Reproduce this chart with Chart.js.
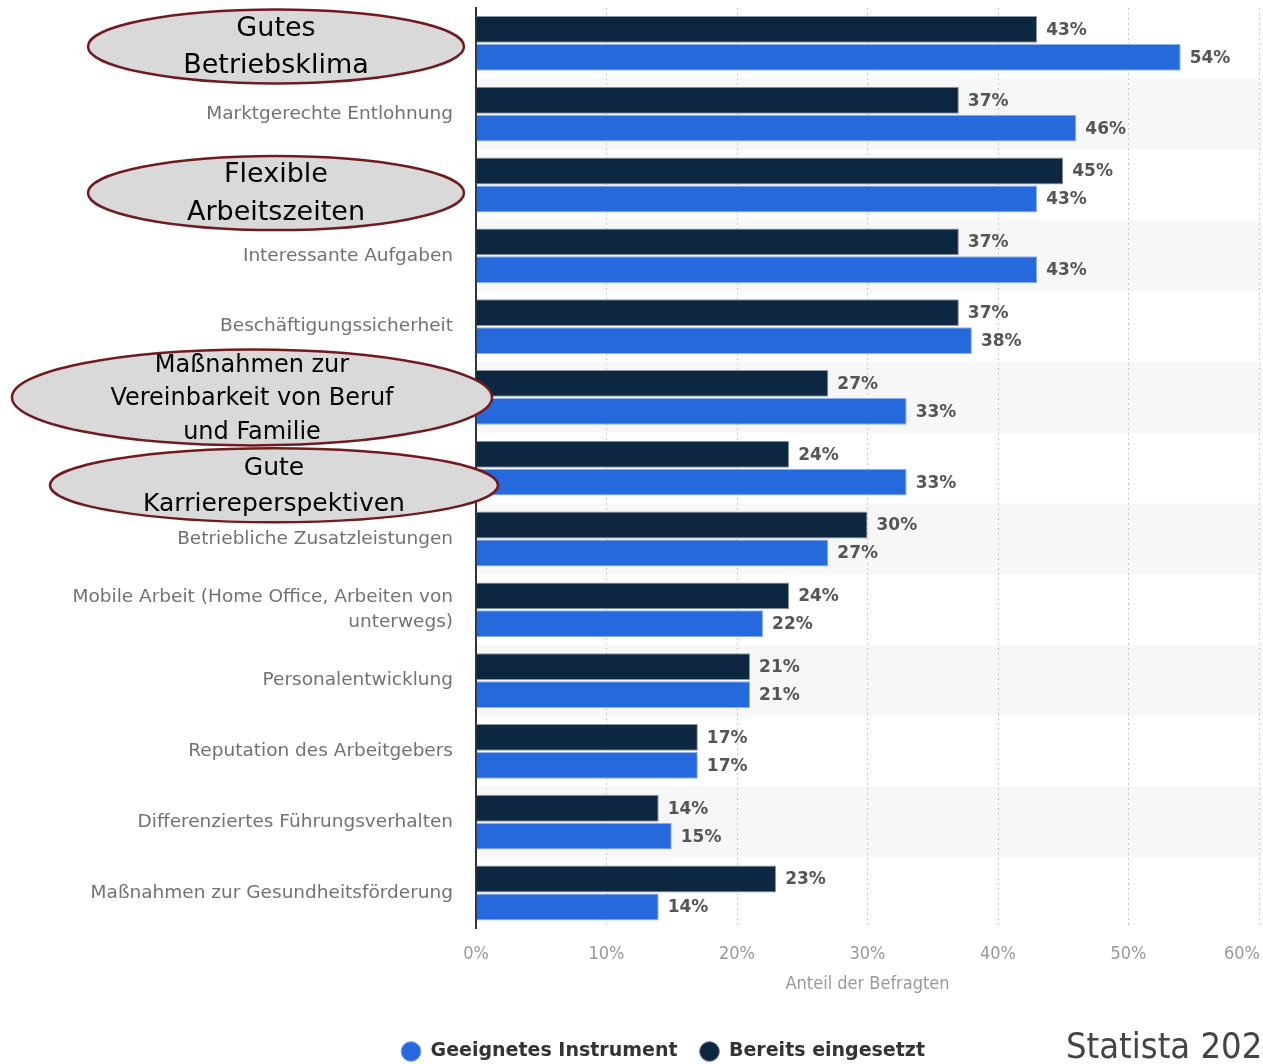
<!DOCTYPE html>
<html>
<head>
<meta charset="utf-8">
<script src="https://cdn.jsdelivr.net/npm/chart.js@4.4.1/dist/chart.umd.min.js"></script>
<style>
    html, body { margin: 0; padding: 0; background: #fff; overflow: hidden; }
    #wrap { width: 1263px; height: 1064px; position: relative; }
</style>
</head>
<body>
<div id="wrap"><canvas id="survey-chart"></canvas></div>
<script>
const categories = [
    'Gutes Betriebsklima',
    'Marktgerechte Entlohnung',
    'Flexible Arbeitszeiten',
    'Interessante Aufgaben',
    'Beschäftigungssicherheit',
    'Maßnahmen zur Vereinbarkeit von Beruf und Familie',
    'Gute Karriereperspektiven',
    'Betriebliche Zusatzleistungen',
    ['Mobile Arbeit (Home Office, Arbeiten von', 'unterwegs)'],
    'Personalentwicklung',
    'Reputation des Arbeitgebers',
    'Differenziertes Führungsverhalten',
    'Maßnahmen zur Gesundheitsförderung'
];
const bereitsEingesetzt = [43, 37, 45, 37, 37, 27, 24, 30, 24, 21, 17, 14, 23];
const geeignetesInstrument = [54, 46, 43, 43, 38, 33, 33, 27, 22, 21, 17, 15, 14];
const xTickValues = [0, 10, 20, 30, 40, 50, 60];

// highlighted rows, drawn as grey ovals over the axis labels
const highlights = [
    { row: 0, dy: 3, cx: 276, rx: 188, ry: 37, size: 27, lines: ['Gutes', 'Betriebsklima'], offs: [-17, 20] },
    { row: 2, dy: 8, cx: 276, rx: 188, ry: 37, size: 27, lines: ['Flexible', 'Arbeitszeiten'], offs: [-18, 20] },
    { row: 5, dy: 0, cx: 252, rx: 240, ry: 48, size: 24, lines: ['Maßnahmen zur', 'Vereinbarkeit von Beruf', 'und Familie'], offs: [-32, 1, 35] },
    { row: 6, dy: 17, cx: 274, rx: 224, ry: 37, size: 25, lines: ['Gute', 'Karriereperspektiven'], offs: [-17, 19] }
];

const DARK = '#0d2741';
const BLUE = '#2569dc';

const bandPlugin = {
    id: 'bands',
    beforeDraw(chart) {
        const { ctx, chartArea, scales: { y } } = chart;
        const step = y.getPixelForValue(1) - y.getPixelForValue(0);
        ctx.save();
        ctx.fillStyle = '#f7f7f7';
        categories.forEach((c, i) => {
            if (i % 2 === 1) {
                const cy = y.getPixelForValue(i);
                ctx.fillRect(chartArea.left, cy - step / 2, chart.width - chartArea.left, step);
            }
        });
        ctx.restore();
    }
};

const valueLabels = {
    id: 'valueLabels',
    afterDatasetsDraw(chart) {
        const ctx = chart.ctx;
        ctx.save();
        ctx.font = 'bold 17px "DejaVu Sans"';
        ctx.fillStyle = '#555';
        ctx.textBaseline = 'middle';
        chart.data.datasets.forEach((ds, di) => {
            chart.getDatasetMeta(di).data.forEach((bar, i) => {
                ctx.fillText(ds.data[i] + '%', bar.x + 9, bar.y + 1);
            });
        });
        ctx.restore();
    }
};

const extras = {
    id: 'extras',
    afterDraw(chart) {
        const { ctx, chartArea, scales: { x, y } } = chart;
        ctx.save();

        // x tick labels (last one kept inside the canvas)
        ctx.font = '18px "DejaVu Sans Condensed"';
        ctx.fillStyle = '#999';
        ctx.textAlign = 'center';
        ctx.textBaseline = 'middle';
        xTickValues.forEach(v => {
            const txt = v + '%';
            const w = ctx.measureText(txt).width;
            const px = Math.min(x.getPixelForValue(v), chart.width - 3 - w / 2);
            ctx.fillText(txt, px, chartArea.bottom + 26);
        });

        // ovals
        highlights.forEach(h => {
            const cy = y.getPixelForValue(h.row) + h.dy;
            ctx.beginPath();
            ctx.ellipse(h.cx, cy, h.rx, h.ry, 0, 0, Math.PI * 2);
            ctx.fillStyle = '#d9d9d9';
            ctx.fill();
            ctx.lineWidth = 2.5;
            ctx.strokeStyle = '#701c1f';
            ctx.stroke();
            ctx.fillStyle = '#000';
            ctx.font = h.size + 'px "DejaVu Sans"';
            h.lines.forEach((line, li) => {
                ctx.fillText(line, h.cx, cy + h.offs[li]);
            });
        });

        // source
        ctx.textAlign = 'left';
        ctx.textBaseline = 'alphabetic';
        ctx.font = '36px "DejaVu Sans Condensed"';
        ctx.fillStyle = '#444';
        ctx.fillText('Statista 2020', 1066, 1058);
        ctx.restore();
    }
};

const surveyCanvas = document.getElementById('survey-chart');

let surveyChart = new Chart(surveyCanvas, {
    type: 'bar',
    data: {
        labels: categories,
        datasets: [{
            label: 'Bereits eingesetzt',
            data: bereitsEingesetzt,
            backgroundColor: DARK,
            borderColor: '#8a97a6',
            borderWidth: 1,
            categoryPercentage: 0.79,
            barPercentage: 0.96
        }, {
            label: 'Geeignetes Instrument',
            data: geeignetesInstrument,
            backgroundColor: BLUE,
            borderColor: '#8fb3ee',
            borderWidth: 1,
            categoryPercentage: 0.79,
            barPercentage: 0.96
        }]
    },
    options: {
        indexAxis: 'y',
        responsive: true,
        maintainAspectRatio: false,
        animation: false,
        layout: {
            autoPadding: false,
            padding: { top: 8, left: 67, right: 4, bottom: -7 }
        },
        scales: {
            x: {
                min: 0,
                max: 60,
                ticks: { display: false, stepSize: 10 },
                grid: { color: '#c8c8c8', drawTicks: false },
                border: { display: false, dash: [2, 3] },
                title: {
                    display: true,
                    text: 'Anteil der Befragten',
                    color: '#999',
                    font: { family: 'DejaVu Sans Condensed', size: 18 },
                    padding: { top: 45, bottom: 25 }
                }
            },
            y: {
                grid: { display: false, drawTicks: false },
                border: { display: true, color: '#333', width: 2 },
                ticks: {
                    color: '#727272',
                    padding: 23,
                    font: { family: 'DejaVu Sans', size: 18.5, lineHeight: 1.35 }
                },
                afterFit(scale) {
                    scale.width = 409;
                    scale.paddingTop = 0;
                    scale.paddingBottom = 0;
                }
            }
        },
        plugins: {
            legend: {
                position: 'bottom',
                reverse: true,
                labels: {
                    usePointStyle: true,
                    pointStyle: 'circle',
                    pointStyleWidth: 20,
                    boxHeight: 14,
                    padding: 22,
                    color: '#333',
                    font: { family: 'DejaVu Sans', size: 19, weight: 'bold' }
                }
            },
            tooltip: { enabled: false }
        }
    },
    plugins: [bandPlugin, valueLabels, extras]
});
</script>
</body>
</html>
